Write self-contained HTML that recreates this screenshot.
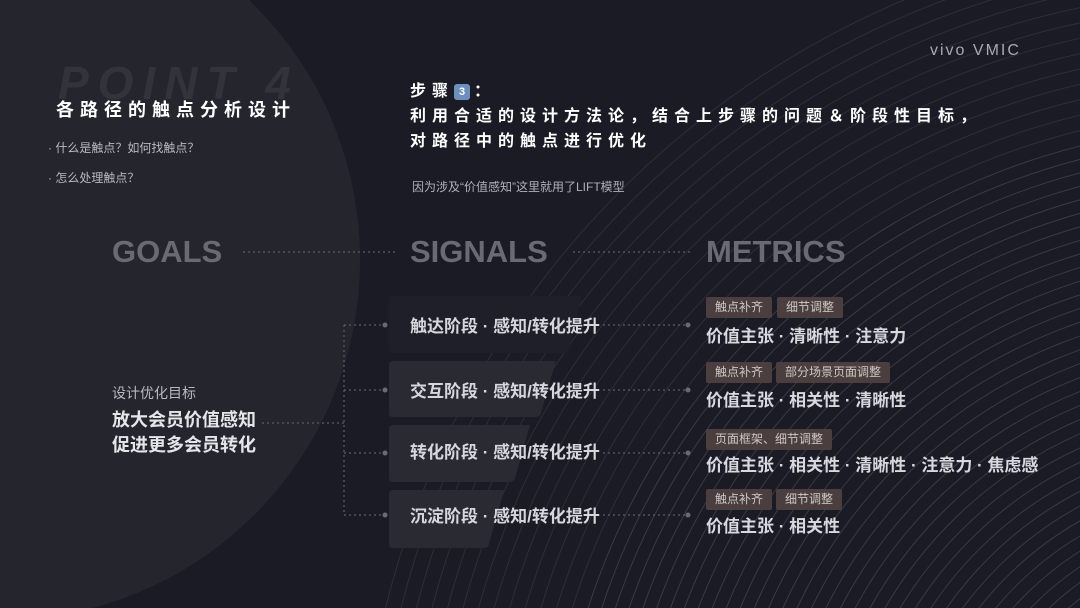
<!DOCTYPE html>
<html><head><meta charset="utf-8"><style>
*{margin:0;padding:0;box-sizing:border-box}
html,body{width:1080px;height:608px;overflow:hidden}
body{background:#1b1b26;position:relative;font-family:"Liberation Sans","Noto Sans CJK SC",sans-serif;color:#fff}
.a{position:absolute;white-space:nowrap}
.tag{position:absolute;background:#4a3f3e;color:#cfc6c3;font-size:12px;height:21px;line-height:21px;padding:0 9px;border-radius:2px}
.stage{color:#d6d6dc;font-size:17px;font-weight:bold}
.met{color:#d8d8de;font-size:17px;font-weight:bold}
.big{font-size:31px;font-weight:bold;color:#6a6a72}
</style></head><body>
<svg class="a" style="left:0;top:0" width="1080" height="608">
<defs><clipPath id="cl"><rect x="0" y="0" width="1080" height="608"/></clipPath></defs>
<circle cx="0" cy="260" r="360" fill="#25252e"/>
<g fill="none" stroke="#3a3a47" stroke-width="1" clip-path="url(#cl)">
<circle cx="1250" cy="820" r="240"/><circle cx="1250" cy="820" r="253"/><circle cx="1250" cy="820" r="266"/><circle cx="1250" cy="820" r="279"/><circle cx="1250" cy="820" r="292"/><circle cx="1250" cy="820" r="305"/><circle cx="1250" cy="820" r="318"/><circle cx="1250" cy="820" r="331"/><circle cx="1250" cy="820" r="344"/><circle cx="1250" cy="820" r="357"/><circle cx="1250" cy="820" r="370"/><circle cx="1250" cy="820" r="383"/><circle cx="1250" cy="820" r="396"/><circle cx="1250" cy="820" r="409"/><circle cx="1250" cy="820" r="422"/><circle cx="1250" cy="820" r="435"/><circle cx="1250" cy="820" r="448"/><circle cx="1250" cy="820" r="461"/><circle cx="1250" cy="820" r="474"/><circle cx="1250" cy="820" r="487"/><circle cx="1250" cy="820" r="500"/><circle cx="1250" cy="820" r="513"/><circle cx="1250" cy="820" r="526"/><circle cx="1250" cy="820" r="539"/><circle cx="1250" cy="820" r="552"/><circle cx="1250" cy="820" r="565"/><circle cx="1250" cy="820" r="578"/><circle cx="1250" cy="820" r="591"/><circle cx="1250" cy="820" r="604"/><circle cx="1250" cy="820" r="617"/><circle cx="1250" cy="820" r="630"/><circle cx="1250" cy="820" r="643"/><circle cx="1250" cy="820" r="656"/><circle cx="1250" cy="820" r="669"/><circle cx="1250" cy="820" r="682"/><circle cx="1250" cy="820" r="695"/>
</g>
<g fill="none" stroke="#2e2e3a" stroke-width="1">
<circle cx="1250" cy="820" r="710"/><circle cx="1250" cy="820" r="725"/><circle cx="1250" cy="820" r="740"/><circle cx="1250" cy="820" r="755"/><circle cx="1250" cy="820" r="770"/><circle cx="1250" cy="820" r="785"/><circle cx="1250" cy="820" r="800"/><circle cx="1250" cy="820" r="815"/><circle cx="1250" cy="820" r="830"/><circle cx="1250" cy="820" r="845"/><circle cx="1250" cy="820" r="860"/><circle cx="1250" cy="820" r="875"/><circle cx="1250" cy="820" r="890"/>
</g>
<circle cx="0" cy="260" r="360" fill="#25252e"/>
<path d="M393 296 H582 L569 349 Q568 353 563 353 H393 Q389 353 389 349 V300 Q389 296 393 296 Z" fill="#1f1f29"/>
<path d="M393 361 H556 L541 413 Q540 417 535 417 H393 Q389 417 389 413 V365 Q389 361 393 361 Z" fill="#2a2a33"/>
<path d="M393 425 H530 L515 478 Q514 482 509 482 H393 Q389 482 389 478 V429 Q389 425 393 425 Z" fill="#2a2a33"/>
<path d="M393 490 H504 L489 544 Q488 548 483 548 H393 Q389 548 389 544 V494 Q389 490 393 490 Z" fill="#2a2a33"/>
<g stroke="#5d5d68" stroke-width="1.2" stroke-dasharray="2 3" fill="none">
<line x1="243" y1="252" x2="398" y2="252"/><line x1="573" y1="252" x2="690" y2="252"/>
<line x1="344" y1="325" x2="344" y2="515"/>
<line x1="262" y1="423" x2="344" y2="423"/>
<line x1="344" y1="325" x2="385" y2="325"/><line x1="344" y1="390" x2="385" y2="390"/><line x1="344" y1="453" x2="385" y2="453"/><line x1="344" y1="515" x2="385" y2="515"/>
<line x1="603" y1="325" x2="688" y2="325"/><line x1="603" y1="390" x2="688" y2="390"/><line x1="603" y1="453" x2="688" y2="453"/><line x1="603" y1="515" x2="688" y2="515"/>
</g>
<g fill="#6a6a74"><circle cx="385" cy="325" r="2.5"/><circle cx="385" cy="390" r="2.5"/><circle cx="385" cy="453" r="2.5"/><circle cx="385" cy="515" r="2.5"/><circle cx="688" cy="325" r="2.5"/><circle cx="688" cy="390" r="2.5"/><circle cx="688" cy="453" r="2.5"/><circle cx="688" cy="515" r="2.5"/></g>
</svg>
<div class="a" style="left:58px;top:56px;font-size:46px;font-weight:bold;font-style:italic;color:#33333c;letter-spacing:9px">POINT 4</div>
<div class="a" style="left:56px;top:96px;font-size:18px;font-weight:bold;letter-spacing:6px">各路径的触点分析设计</div>
<div class="a" style="left:48px;top:139px;font-size:12px;color:#b8b8c0">· 什么是触点？如何找触点？</div>
<div class="a" style="left:48px;top:169px;font-size:12px;color:#b8b8c0">· 怎么处理触点？</div>
<div class="a" style="left:930px;top:42px;font-size:16px;color:#a8a8b4;letter-spacing:2px">vivo VMIC</div>
<div class="a" style="left:410px;top:79px;font-size:16px;font-weight:bold;letter-spacing:6px;line-height:25px">步骤<span style="display:inline-block;width:16px;height:16px;background:#6d8fbf;border-radius:3px;font-size:11px;line-height:16px;text-align:center;letter-spacing:0;vertical-align:1px;margin-right:4px">3</span>：<br>利用合适的设计方法论，结合上步骤的问题＆阶段性目标，<br>对路径中的触点进行优化</div>
<div class="a" style="left:412px;top:178px;font-size:12px;color:#b0b0b8">因为涉及“价值感知”这里就用了LIFT模型</div>
<div class="a big" style="left:112px;top:234px">GOALS</div>
<div class="a big" style="left:410px;top:234px">SIGNALS</div>
<div class="a big" style="left:706px;top:234px">METRICS</div>
<div class="a" style="left:112px;top:383px;font-size:14px;color:#b8b8c0">设计优化目标</div>
<div class="a" style="left:112px;top:408px;font-size:18px;font-weight:bold;color:#e6e6ea;line-height:25px">放大会员价值感知<br>促进更多会员转化</div>
<div class="a stage" style="left:410px;top:312px">触达阶段 · 感知/转化提升</div>
<div class="a stage" style="left:410px;top:377px">交互阶段 · 感知/转化提升</div>
<div class="a stage" style="left:410px;top:438px">转化阶段 · 感知/转化提升</div>
<div class="a stage" style="left:410px;top:502px">沉淀阶段 · 感知/转化提升</div>
<div class="tag" style="left:706px;top:297px">触点补齐</div><div class="tag" style="left:777px;top:297px">细节调整</div>
<div class="a met" style="left:706px;top:322px">价值主张 · 清晰性 · 注意力</div>
<div class="tag" style="left:706px;top:362px">触点补齐</div><div class="tag" style="left:776px;top:362px">部分场景页面调整</div>
<div class="a met" style="left:706px;top:386px">价值主张 · 相关性 · 清晰性</div>
<div class="tag" style="left:706px;top:429px">页面框架、细节调整</div>
<div class="a met" style="left:706px;top:451px">价值主张 · 相关性 · 清晰性 · 注意力 · 焦虑感</div>
<div class="tag" style="left:706px;top:489px">触点补齐</div><div class="tag" style="left:776px;top:489px">细节调整</div>
<div class="a met" style="left:706px;top:512px">价值主张 · 相关性</div>
</body></html>
